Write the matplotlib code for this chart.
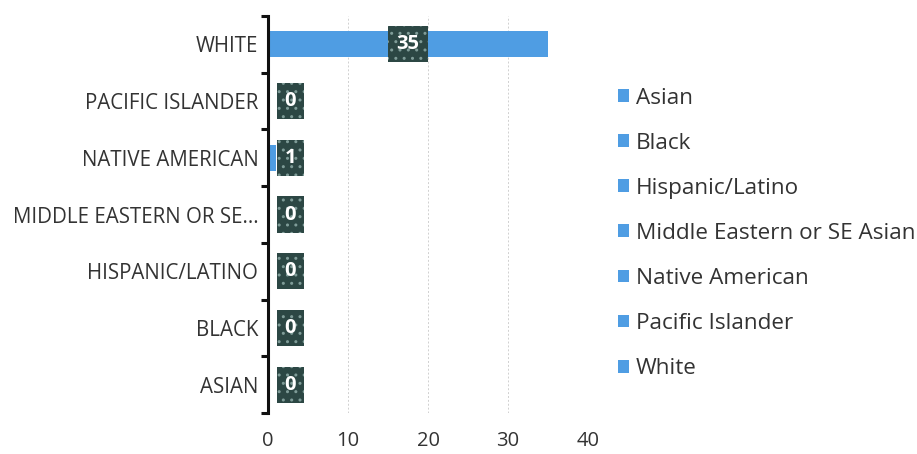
import matplotlib.pyplot as plt
from matplotlib.patches import Patch

# race / ethnicity counts, bottom row first
categories = ['ASIAN', 'BLACK', 'HISPANIC/LATINO', 'MIDDLE EASTERN OR SE...',
              'NATIVE AMERICAN', 'PACIFIC ISLANDER', 'WHITE']
counts = [0, 0, 0, 0, 1, 0, 35]
legend_names = ['Asian', 'Black', 'Hispanic/Latino', 'Middle Eastern or SE Asian',
                'Native American', 'Pacific Islander', 'White']
xticks = [0, 10, 20, 30, 40]

bar_color = '#4f9de3'
plt.rcParams['font.family'] = ['Open Sans', 'DejaVu Sans']

fig = plt.figure(figsize=(9.17, 4.54), dpi=100)
ax = fig.add_axes([268 / 917, 1 - 413 / 454, (588 - 268) / 917, (413 - 16) / 454])

y = list(range(len(categories)))
ax.barh(y, counts, height=0.46, color=bar_color, zorder=2)

# value labels in dark dotted boxes
for yi, v in zip(y, counts):
    xpos = v / 2 if v / 2 > 2.8 else 2.8
    ax.text(xpos, yi, str(v), ha='center', va='center', color='white',
            fontsize=14.5, fontweight='bold', zorder=4,
            bbox=dict(boxstyle='square,pad=0.4', fc='#2c4744', ec='#7f9c98',
                      lw=0, hatch='..'))

ax.set_xlim(0, 40)
ax.set_ylim(-0.5, len(categories) - 0.5)
ax.set_xticks(xticks)
ax.set_xticklabels([str(t) for t in xticks], fontsize=14.5, color='#333333')
ax.tick_params(axis='x', length=0, pad=13)
ax.xaxis.grid(True, color='#d0d0d0', lw=0.7, ls=(0, (2, 2)), zorder=0)

# category labels centred, ticks on the boundaries
ax.set_yticks(y)
ax.set_yticklabels(categories, fontsize=14.8, color='#333333')
ax.set_yticks([i - 0.5 for i in range(len(categories) + 1)], minor=True)
ax.tick_params(axis='y', which='major', length=0, pad=7)
ax.tick_params(axis='y', which='minor', length=5, width=2.2, color='#111111')

for s in ['top', 'right', 'bottom']:
    ax.spines[s].set_visible(False)
ax.spines['left'].set_linewidth(2.2)
ax.spines['left'].set_color('#111111')

handles = [Patch(facecolor=bar_color, edgecolor='none') for _ in legend_names]
fig.legend(handles, legend_names, loc='center left', bbox_to_anchor=(0.652, 0.486),
           frameon=False, fontsize=16.2, handlelength=0.5, handleheight=0.5,
           handletextpad=0.3, labelspacing=1.07, labelcolor='#333333')

fig.savefig('out.png', dpi=100, facecolor='white')
